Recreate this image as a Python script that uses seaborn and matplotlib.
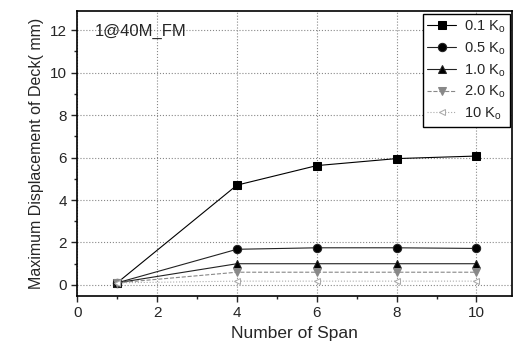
import matplotlib
matplotlib.use("Agg")
import matplotlib.pyplot as plt
import seaborn as sns
import pandas as pd
from matplotlib.ticker import MultipleLocator

spans = [1, 4, 6, 8, 10]
k01 = [0.1, 4.7, 5.62, 5.95, 6.07]
k05 = [0.1, 1.68, 1.75, 1.75, 1.72]
k10 = [0.1, 1.0, 1.0, 1.0, 1.0]
k20 = [0.1, 0.6, 0.6, 0.6, 0.6]
k100 = [0.1, 0.18, 0.18, 0.18, 0.18]
labels = [r"0.1 K$_\mathregular{o}$", r"0.5 K$_\mathregular{o}$", r"1.0 K$_\mathregular{o}$",
          r"2.0 K$_\mathregular{o}$", r"10 K$_\mathregular{o}$"]

sns.set_theme(style="ticks")
plt.rcParams['font.family'] = ['Liberation Sans', 'DejaVu Sans']

fig = plt.figure(figsize=(5.15, 3.43), dpi=100)
ax = fig.add_axes([0.15, 0.137, 0.845, 0.831])

series = [k01, k05, k10, k20, k100]
styles = [
    dict(color="black", marker="s", ls="-", ms=5.5, mfc="black"),
    dict(color="#222222", marker="o", ls="-", ms=6, mfc="black"),
    dict(color="#222222", marker="^", ls="-", ms=6, mfc="black"),
    dict(color="#888888", marker="v", ls="--", ms=6, mfc="#888888"),
    dict(color="#aaaaaa", marker="<", ls=":", ms=5, mfc="white"),
]
for vals, lab, st in zip(series, labels, styles):
    df = pd.DataFrame({"x": spans, "y": vals})
    sns.lineplot(data=df, x="x", y="y", ax=ax, label=lab, color=st["color"],
                 marker=st["marker"], linestyle=st["ls"], markersize=st["ms"],
                 markerfacecolor=st["mfc"], markeredgecolor=st["color"], linewidth=0.8)

ax.set_xlim(0, 10.9)
ax.set_ylim(-0.52, 12.9)
ax.xaxis.set_major_locator(MultipleLocator(2))
ax.xaxis.set_minor_locator(MultipleLocator(1))
ax.yaxis.set_major_locator(MultipleLocator(2))
ax.yaxis.set_minor_locator(MultipleLocator(1))
ax.grid(True, which="major", linestyle=":", color="#888888", linewidth=0.8)
ax.tick_params(which="major", direction="out", length=4, width=1, labelsize=11)
ax.tick_params(which="minor", direction="out", length=2, width=1)
for s in ax.spines.values():
    s.set_linewidth(1.2)
    s.set_color("black")
ax.set_xlabel("Number of Span", fontsize=12.5)
ax.set_ylabel("Maximum Displacement of Deck( mm)", fontsize=11.5)
ax.text(0.45, 11.75, "1@40M_FM", fontsize=12)
leg = ax.legend(loc="upper right", fontsize=10.5, frameon=True, fancybox=False,
                edgecolor="black", framealpha=1, handlelength=2.0, borderpad=0.3,
                labelspacing=0.35, borderaxespad=0.2, handletextpad=0.5)
leg.get_frame().set_linewidth(1)

fig.savefig("out.png", dpi=100)
